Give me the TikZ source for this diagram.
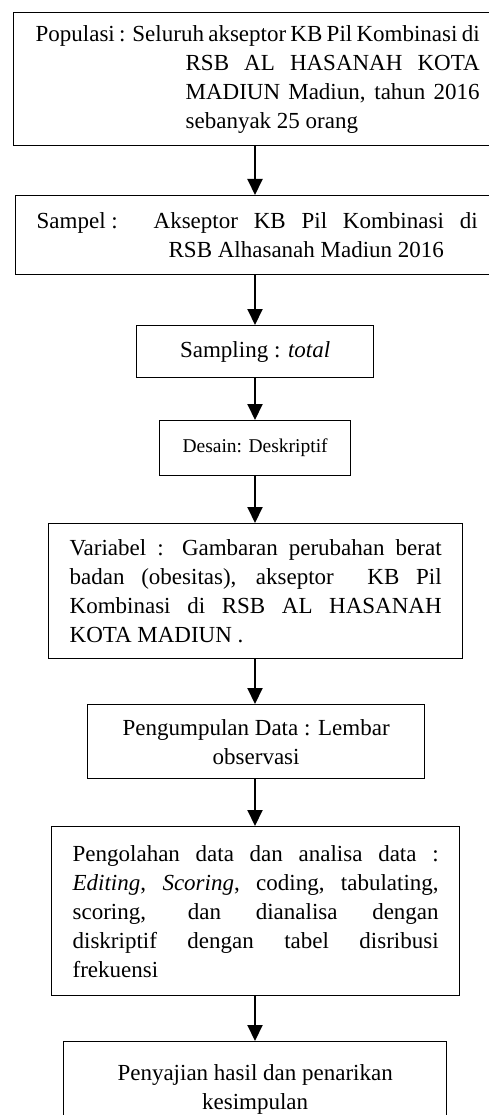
\documentclass[tikz,border=0pt]{standalone}
\usepackage{fontspec}
\setmainfont{Liberation Serif}
\usetikzlibrary{arrows.meta}
\begin{document}
\begin{tikzpicture}[x=1pt,y=-1pt,
  box/.style={draw, line width=1.3pt, anchor=north west, inner ysep=0pt,
    font=\fontsize{23}{29}\selectfont},
  parbox/.style={box, align=justify},
  cbox/.style={box, align=center, inner xsep=0pt},
  conn/.style={line width=2pt, -{Triangle[width=15pt,length=16pt]}}]
\clip (0,0) rectangle (489,1115);
\tolerance=10000 \hyphenpenalty=10000
\node[parbox, inner xsep=22pt, text width=444pt, minimum height=133pt] (b1) at (13,12)
  {\noindent\hangindent=150pt\hangafter=1 Populasi : Seluruh akseptor KB Pil Kombinasi di\linebreak RSB AL HASANAH KOTA\linebreak MADIUN Madiun, tahun 2016\linebreak sebanyak 25 orang\par};
\node[parbox, inner xsep=21pt, text width=441pt, minimum height=79pt] (b2) at (15,195)
  {\noindent\hangindent=132pt\hangafter=1 \makebox[117pt][l]{Sampel :}Akseptor KB Pil Kombinasi di\linebreak RSB Alhasanah Madiun 2016\par};
\node[cbox, minimum width=237pt, minimum height=52pt] (b3) at (136,325)
  {Sampling : \textit{total}};
\node[cbox, minimum width=191pt, minimum height=55pt, font=\fontsize{19.5}{24}\selectfont] (b4) at (159,420)
  {Desain: Deskriptif};
\node[parbox, inner xsep=21pt, text width=372pt, minimum height=135pt] (b5) at (48,523)
  {\noindent Variabel : Gambaran perubahan berat\linebreak badan (obesitas), akseptor\ \ KB Pil\linebreak Kombinasi di RSB AL HASANAH\linebreak KOTA MADIUN .\par};
\node[cbox, minimum width=337pt, minimum height=74pt] (b6) at (87,704)
  {Pengumpulan Data : Lembar\\observasi};
\node[parbox, inner xsep=21pt, text width=366pt, minimum height=169pt] (b7) at (51,826)
  {\noindent Pengolahan data dan analisa data :\linebreak \textit{Editing}, \textit{Scoring}, coding, tabulating,\linebreak scoring, dan dianalisa dengan\linebreak diskriptif dengan tabel disribusi\linebreak frekuensi\par};
\node[cbox, minimum width=383pt, minimum height=95pt] (b8) at (63,1041)
  {Penyajian hasil dan penarikan\\kesimpulan};
\coordinate (ax) at (255,0);
\draw[conn] (b1.south -| ax) -- (b2.north -| ax);
\draw[conn] (b2.south -| ax) -- (b3.north -| ax);
\draw[conn] (b3.south -| ax) -- (b4.north -| ax);
\draw[conn] (b4.south -| ax) -- (b5.north -| ax);
\draw[conn] (b5.south -| ax) -- (b6.north -| ax);
\draw[conn] (b6.south -| ax) -- (b7.north -| ax);
\draw[conn] (b7.south -| ax) -- (b8.north -| ax);
\end{tikzpicture}
\end{document}
